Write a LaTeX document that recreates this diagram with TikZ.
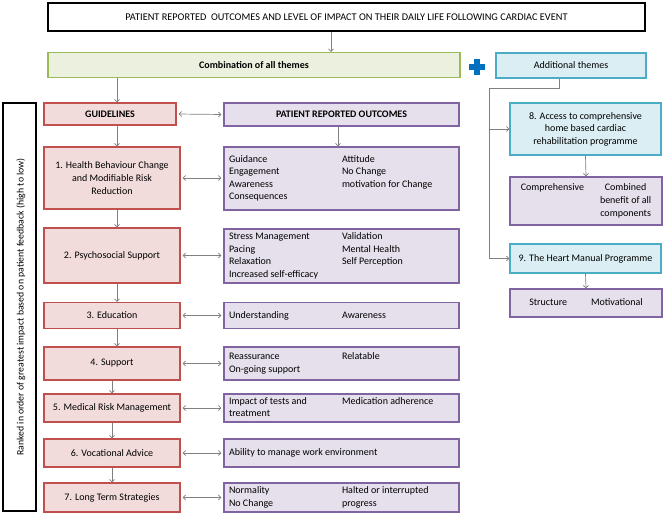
\documentclass[tikz,border=0pt]{standalone}
\usepackage{fontspec}
\setmainfont{Carlito}
\usetikzlibrary{arrows.meta}
\definecolor{gfill}{HTML}{EBF1DE}\definecolor{gdraw}{HTML}{9BBB59}
\definecolor{bfill}{HTML}{DBEEF4}\definecolor{bdraw}{HTML}{4BACC6}
\definecolor{rfill}{HTML}{F2DCDB}\definecolor{rdraw}{HTML}{C0504D}
\definecolor{pfill}{HTML}{E5E0EC}\definecolor{pdraw}{HTML}{8064A2}
\definecolor{plusblue}{HTML}{0070C0}
\definecolor{arrgray}{HTML}{808080}
\begin{document}
\begin{tikzpicture}[x=1pt,y=-1pt,
  box/.style={draw, line width=1.2pt, inner sep=0pt, font=\fontsize{10}{12.6}\selectfont, align=center},
  wbox/.style={box, fill=white, draw=black},
  gbox/.style={box, fill=gfill, draw=gdraw},
  bbox/.style={box, fill=bfill, draw=bdraw},
  rbox/.style={box, fill=rfill, draw=rdraw},
  pbox/.style={box, fill=pfill, draw=pdraw},
  arr/.style={draw=arrgray, line width=0.7pt, -{Straight Barb[length=2.5pt,width=5pt]}},
  darr/.style={draw=arrgray, line width=0.7pt, {Straight Barb[length=2.5pt,width=5pt]}-{Straight Barb[length=2.5pt,width=5pt]}, shorten <=2pt, shorten >=2pt},
  gline/.style={draw=arrgray, line width=0.7pt},
]
\useasboundingbox (0,0) rectangle (669,514);

% top
\node[wbox, minimum width=597pt, minimum height=28pt, font=\fontsize{10.3}{12}\selectfont] (top) at (346.5,17)
  {PATIENT REPORTED\ \ OUTCOMES AND LEVEL OF IMPACT ON THEIR DAILY LIFE FOLLOWING CARDIAC EVENT};
\node[gbox, minimum width=412pt, minimum height=25pt, font=\fontsize{10}{12.6}\selectfont\bfseries] (comb) at (254,65) {Combination of all themes};
\node[bbox, minimum width=150pt, minimum height=25pt] (add) at (571,65.5) {Additional themes};

% plus sign
\fill[plusblue] (469,64.2) rectangle (485,69.8);
\fill[plusblue] (474.2,59) rectangle (479.8,75);

% vertical label
\node[wbox, minimum width=33pt, minimum height=408pt] (rank) at (19.5,307) {};
\node[rotate=90, font=\fontsize{9.8}{12}\selectfont] (ranktxt) at (21,307)
  {Ranked in order of greatest impact based on patient feedback (high to low)};

% guidelines column
\node[rbox, minimum width=132pt, minimum height=22pt, font=\fontsize{10}{12.6}\selectfont\bfseries] (gl) at (110,114) {GUIDELINES};
\node[rbox, minimum width=136pt, minimum height=62pt] (l1) at (112,178) {1. Health Behaviour Change\\and Modifiable Risk\\Reduction};
\node[rbox, minimum width=136pt, minimum height=55pt] (l2) at (112,255.5) {2. Psychosocial Support};
\node[rbox, minimum width=136pt, minimum height=26pt] (l3) at (112,315.5) {3. Education};
\node[rbox, minimum width=136pt, minimum height=33pt] (l4) at (112,363.5) {4. Support};
\node[rbox, minimum width=136pt, minimum height=28pt] (l5) at (112,408) {5. Medical Risk Management};
\node[rbox, minimum width=136pt, minimum height=28pt] (l6) at (112,453) {6. Vocational Advice};
\node[rbox, minimum width=136pt, minimum height=29pt] (l7) at (112,497.5) {7. Long Term Strategies};

% patient reported outcomes column
\node[pbox, minimum width=235pt, minimum height=23pt, font=\fontsize{10}{12.6}\selectfont\bfseries] (ph) at (341.5,114.5) {PATIENT REPORTED OUTCOMES};
\node[pbox, minimum width=235pt, minimum height=63pt] (p1) at (341.5,178.5)
  {\begin{tabular}{@{}p{113pt}@{}p{112pt}@{}}Guidance & Attitude\\ Engagement & No Change\\ Awareness & motivation for Change\\ Consequences & \end{tabular}};
\node[pbox, minimum width=235pt, minimum height=54pt] (p2) at (341.5,256)
  {\begin{tabular}{@{}p{113pt}@{}p{112pt}@{}}Stress Management & Validation\\ Pacing & Mental Health\\ Relaxation & Self Perception\\ Increased\ self-efficacy & \end{tabular}};
\node[pbox, minimum width=235pt, minimum height=26pt] (p3) at (341.5,315.5)
  {\begin{tabular}{@{}p{113pt}@{}p{112pt}@{}}Understanding & Awareness\end{tabular}};
\node[pbox, minimum width=235pt, minimum height=33pt] (p4) at (341.5,363.5)
  {\begin{tabular}{@{}p{113pt}@{}p{112pt}@{}}Reassurance & Relatable\\ On-going support & \end{tabular}};
\node[pbox, minimum width=235pt, minimum height=28pt] (p5) at (341.5,408)
  {\begin{tabular}{@{}p{113pt}@{}p{112pt}@{}}Impact of tests and & Medication adherence\\ treatment & \end{tabular}};
\node[pbox, minimum width=235pt, minimum height=28pt] (p6) at (341.5,453)
  {\begin{tabular}{@{}p{225pt}@{}}Ability to manage work environment\end{tabular}};
\node[pbox, minimum width=235pt, minimum height=29pt] (p7) at (341.5,497.5)
  {\begin{tabular}{@{}p{113pt}@{}p{112pt}@{}}Normality & Halted or interrupted\\ No Change & progress\end{tabular}};

% additional themes column
\node[bbox, minimum width=151pt, minimum height=52pt] (b8) at (585.5,129) {8. Access to comprehensive\\home based cardiac\\rehabilitation programme};
\node[pbox, minimum width=152pt, minimum height=48pt] (c8) at (586,201)
  {\begin{tabular}{@{}l@{\hspace{16pt}}c@{}}Comprehensive & Combined\\ & benefit of all\\ & components\end{tabular}};
\node[bbox, minimum width=151pt, minimum height=29pt] (b9) at (585.5,258.5) {9. The Heart Manual Programme};
\node[pbox, minimum width=152pt, minimum height=28pt] (s9) at (586,303)
  {\begin{tabular}{@{}l@{\hspace{24pt}}l@{}}Structure & Motivational\end{tabular}};

% connectors
\draw[arr] ([xshift=-15.5pt]top.south) -- ([xshift=-15.5pt]top.south |- comb.north);
\draw[arr] ([xshift=-137pt]comb.south) -- ([xshift=7pt]gl.north);
\draw[arr] ([xshift=7pt]gl.south) -- ([xshift=5pt]l1.north);
\draw[arr] ([xshift=5pt]l1.south) -- ([xshift=5pt]l2.north);
\draw[arr] ([xshift=5pt]l2.south) -- ([xshift=5pt]l3.north);
\draw[arr] ([xshift=5pt]l3.south) -- ([xshift=5pt]l4.north);
\draw[arr] (l4.south) -- (l5.north);
\draw[arr] (l5.south) -- (l6.north);
\draw[arr] (l6.south) -- (l7.north);
\draw[arr] ([xshift=-3.5pt]ph.south) -- ([xshift=-3.5pt]p1.north);

\draw[darr] (gl.east) -- (ph.west);
\draw[darr] (l1.east) -- (p1.west |- l1.east);
\draw[darr] (l2.east) -- (p2.west |- l2.east);
\draw[darr] (l3.east) -- (p3.west);
\draw[darr] (l4.east) -- (p4.west);
\draw[darr] (l5.east) -- (p5.west);
\draw[darr] (l6.east) -- (p6.west);
\draw[darr] (l7.east) -- (p7.west);

\coordinate (j1) at (489,88.5);
\draw[gline] ([xshift=-12pt]add.south) |- (j1) -- (j1 |- b9.west);
\draw[arr] (j1 |- b9.west) -- (b9.west);
\draw[arr] (j1 |- b8.west) -- (b8.west);
\draw[arr] (b8.south) -- (c8.north);
\draw[arr] (b9.south) -- (s9.north);
\end{tikzpicture}
\end{document}
